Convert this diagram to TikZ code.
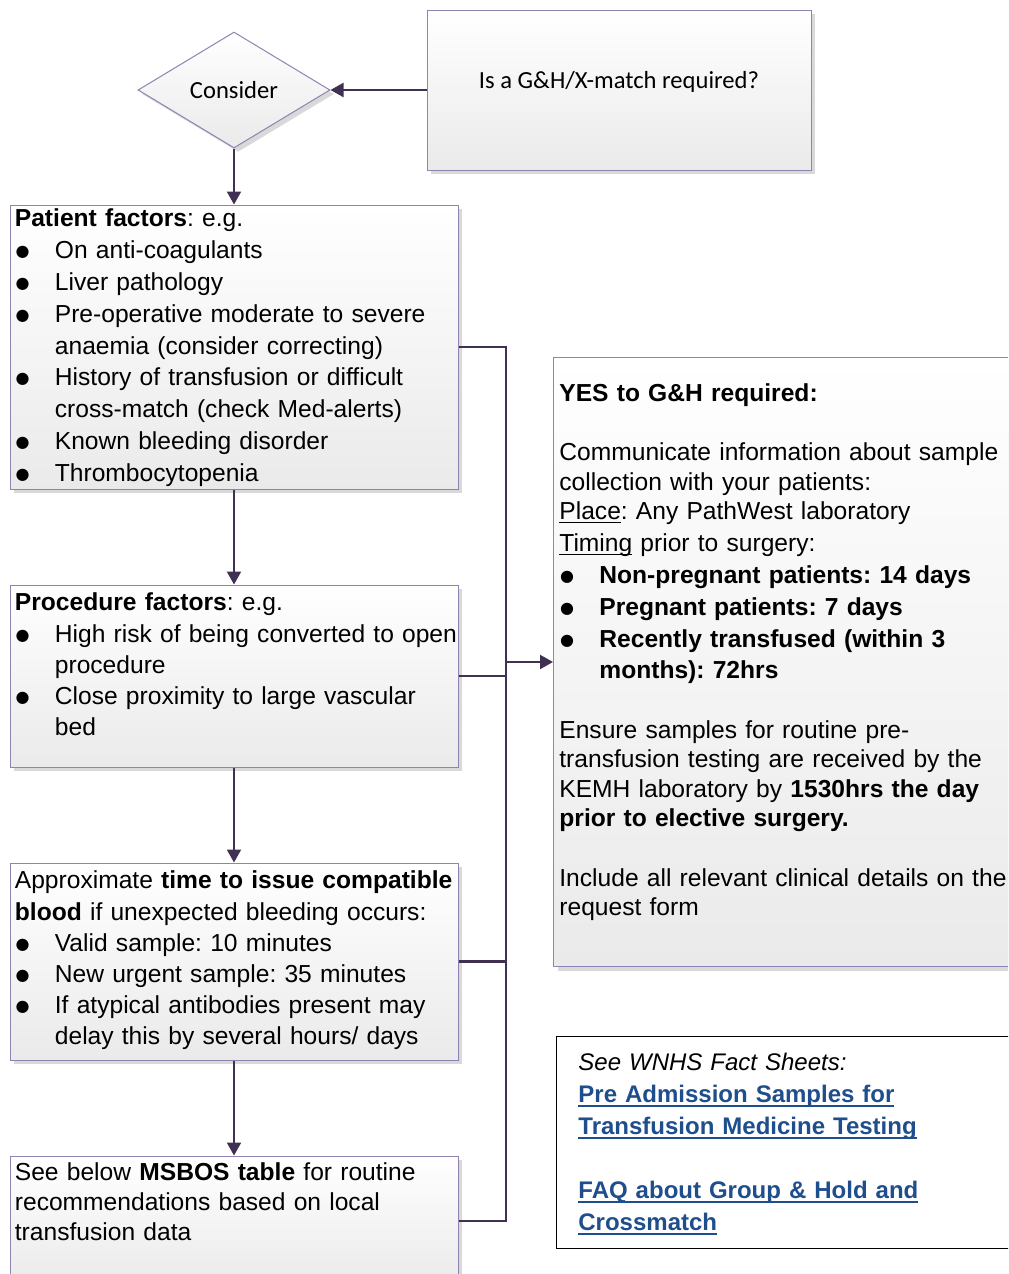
\documentclass[tikz,border=0pt]{standalone}
\usepackage{fontspec}
\setmainfont{Liberation Sans}
\newfontfamily\calfont{Carlito}
\newfontfamily\symfont{DejaVu Sans}
\usepackage{xcolor}
\usepackage{tikz}
\usetikzlibrary{arrows.meta,positioning,shapes.geometric,shadows}

\definecolor{edgecol}{RGB}{64,49,82}
\definecolor{framecol}{RGB}{145,130,180}
\definecolor{shadecol}{RGB}{234,234,234}
\definecolor{linkcol}{RGB}{31,78,141}

\frenchspacing
\setlength{\parindent}{0pt}
\newcommand{\firstln}{\rule{0pt}{10pt}}
\newcommand{\bul}{\par\makebox[20pt][l]{\hspace{0.4pt}\raisebox{1pt}{\symfont\fontsize{8}{8}\selectfont ●}}}
\newcommand{\cnt}{\par\hspace*{20pt}}
\newcommand{\gap}{\par\vspace{\baselineskip}}
\newcommand{\lnk}[1]{\leavevmode\setbox0\hbox{#1}\rlap{\rule[-2.5pt]{\wd0}{1pt}}\box0\relax}
\newcommand{\und}[1]{\leavevmode\setbox0\hbox{#1}\rlap{\rule[-1.8pt]{\wd0}{0.5pt}}\box0\relax}

\begin{document}
\begin{tikzpicture}[x=0.5pt,y=-0.5pt,>={Triangle[length=6.5pt,width=7pt]},
  node distance=47.5pt,
  flowbox/.style={draw=framecol,line width=0.5pt,top color=white,bottom color=shadecol,
    drop shadow={shadow xshift=2pt,shadow yshift=-2pt,fill=black!15,opacity=1},
    minimum width=224pt,inner sep=0pt},
  txt/.style={inner sep=0pt,text width=240pt,align=left,font=\fontsize{12.3}{15.6}\selectfont},
  link/.style={draw=edgecol,line width=1.1pt}]
 \useasboundingbox (0,0) rectangle (1008,1274);
 \clip (0,0) rectangle (1008,1274);

 \node[flowbox,diamond,minimum width=96pt,minimum height=58pt,aspect=1.66,
   font=\calfont\fontsize{12.3}{15}\selectfont] (cons) at (234,90) {Consider};
 \node[flowbox,minimum width=192pt,minimum height=80pt,text height=9pt,text depth=11pt,
   font=\calfont\fontsize{12.3}{15}\selectfont,right=48pt of cons] (ask) {Is a G\&H/X-match required?};

 \node[flowbox,minimum height=142pt,below=28pt of cons] (pat) {};
 \node[flowbox,minimum height=91pt,below=of pat] (proc) {};
 \node[flowbox,minimum height=98.5pt,below=of proc] (time) {};
 \node[flowbox,minimum height=65pt,below=of time] (msbos) {};
 \node[flowbox,minimum width=240pt,minimum height=304.5pt,anchor=north west] (yes) at (553,357) {};
 \node[draw=black,line width=0.6pt,fill=white,minimum width=240pt,minimum height=106pt,
   inner sep=0pt,anchor=north west] (facts) at (556,1036) {};

 % box texts
 \node[txt,font=\fontsize{12.3}{15.9}\selectfont,below right=1pt and 2.5pt of pat.north west] (pattxt) {%
  \firstln\textbf{Patient factors}: e.g.
  \bul On anti-coagulants
  \bul Liver pathology
  \bul Pre-operative moderate to severe
  \cnt anaemia (consider correcting)
  \bul History of transfusion or difficult
  \cnt cross-match (check Med-alerts)
  \bul Known bleeding disorder
  \bul Thrombocytopenia};
 \node[txt,below right=3pt and 2.5pt of proc.north west] (proctxt) {%
  \firstln\textbf{Procedure factors}: e.g.
  \bul High risk of being converted to open
  \cnt procedure
  \bul Close proximity to large vascular
  \cnt bed};
 \node[txt,below right=3pt and 2.5pt of time.north west] (timetxt) {%
  \firstln Approximate \textbf{time to issue compatible}
  \par\textbf{blood} if unexpected bleeding occurs:
  \bul Valid sample: 10 minutes
  \bul New urgent sample: 35 minutes
  \bul If atypical antibodies present may
  \cnt delay this by several hours/ days};
 \node[txt,font=\fontsize{12.3}{15}\selectfont,below right=2.5pt and 2.5pt of msbos.north west] (msbostxt) {%
  \firstln See below \textbf{MSBOS table} for routine
  \par recommendations based on local
  \par transfusion data};
 \node[txt,font=\fontsize{12.3}{14.8}\selectfont,below right=12pt and 3pt of yes.north west] (yestxt) {%
  \firstln\textbf{YES to G\&H required:}\gap
  Communicate information about sample
  \par collection with your patients:
  \par\und{Place}: Any PathWest laboratory
  \par\und{Timing} prior to surgery:
  {\baselineskip=15.9pt\bfseries
  \bul Non-pregnant patients: 14 days
  \bul Pregnant patients: 7 days
  \bul Recently transfused (within 3
  \cnt months): 72hrs\par}\gap
  Ensure samples for routine pre-
  \par transfusion testing are received by the
  \par KEMH laboratory by \textbf{1530hrs the day}
  \par\textbf{prior to elective surgery.}\gap
  Include all relevant clinical details on the
  \par request form};
 \node[txt,font=\fontsize{12}{16}\selectfont,below right=7pt and 11pt of facts.north west] (factstxt) {%
  \firstln\textit{See WNHS Fact Sheets:}
  \par{\color{linkcol}\bfseries\lnk{Pre Admission Samples for}
  \par\lnk{Transfusion Medicine Testing}\gap
  \lnk{FAQ about Group \& Hold and}
  \par\lnk{Crossmatch}\par}};

 % connectors
 \coordinate (jn) at (506,662);
 \draw[link,->] (ask) -- (cons);
 \draw[link,->] (cons) -- (pat);
 \draw[link,->] (pat) -- (proc);
 \draw[link,->] (proc) -- (time);
 \draw[link,->] (time) -- (msbos);
 \draw[link] (pat.east) -| (jn) (proc.east) -| (jn) (time.east) -| (jn) (msbos.east) -| (jn);
 \draw[link,->] (jn) -- (jn -| yes.west);
\end{tikzpicture}
\end{document}
